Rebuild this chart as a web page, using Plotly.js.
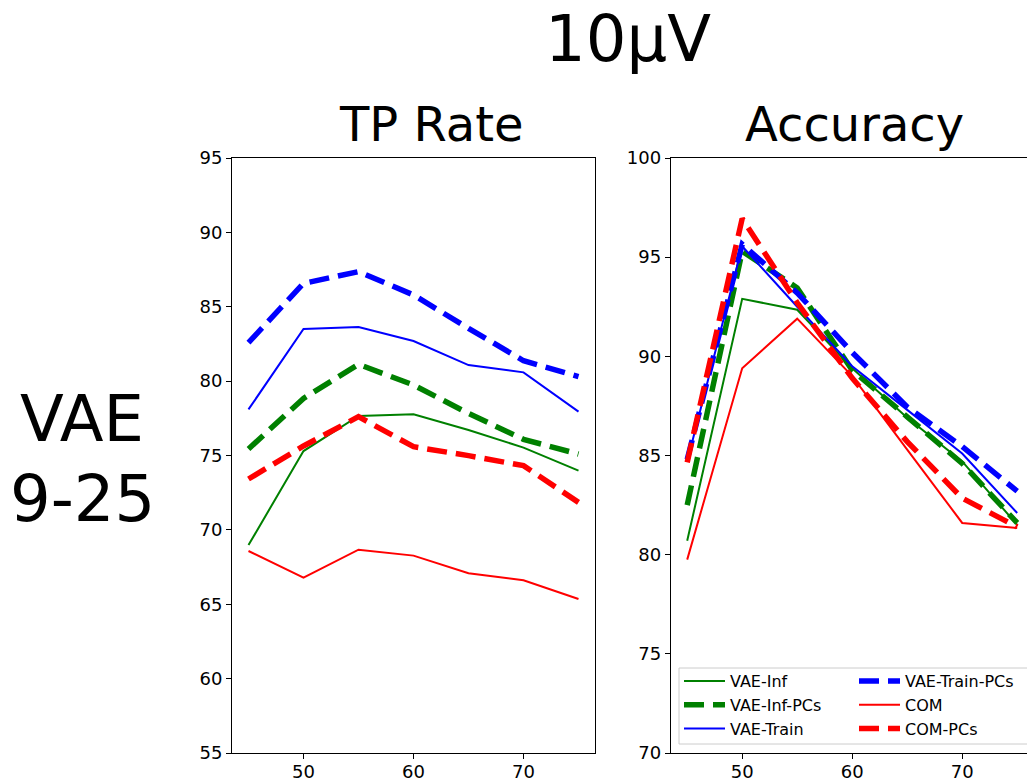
<!DOCTYPE html>
<html>
<head>
<meta charset="utf-8">
<script src="https://cdn.plot.ly/plotly-3.0.1.min.js"></script>
<style>html,body{margin:0;padding:0;background:#fff;}#chart{width:1027px;height:783px;}</style>
</head>
<body>
<div id="chart"></div>
<script>
const xVals = [45, 50, 55, 60, 65, 70, 75];
const seriesNames = ['VAE-Inf', 'VAE-Inf-PCs', 'VAE-Train', 'VAE-Train-PCs', 'COM', 'COM-PCs'];

// TP Rate
const tpVaeInf      = [68.98, 75.30, 77.66, 77.77, 76.71, 75.53, 73.98];
const tpVaeInfPCs   = [75.44, 78.84, 81.13, 79.74, 77.83, 76.09, 75.10];
const tpVaeTrain    = [78.10, 83.50, 83.64, 82.70, 81.08, 80.59, 77.95];
const tpVaeTrainPCs = [82.59, 86.57, 87.36, 85.79, 83.55, 81.37, 80.30];
const tpCom         = [68.58, 66.79, 68.67, 68.27, 67.08, 66.61, 65.35];
const tpComPCs      = [73.42, 75.64, 77.61, 75.59, 74.99, 74.32, 71.85];

// Accuracy
const accVaeInf      = [80.70, 92.90, 92.35, 89.40, 86.90, 84.70, 81.50];
const accVaeInfPCs   = [82.50, 95.30, 93.45, 89.30, 86.95, 84.60, 81.60];
const accVaeTrain    = [84.70, 95.55, 92.50, 89.50, 87.30, 85.10, 82.10];
const accVaeTrainPCs = [84.80, 95.65, 93.20, 90.20, 87.45, 85.45, 83.20];
const accCom         = [79.75, 89.40, 91.90, 89.00, 85.30, 81.60, 81.35];
const accComPCs      = [84.65, 96.95, 92.70, 88.90, 85.70, 82.85, 81.40];

const tpData = [tpVaeInf, tpVaeInfPCs, tpVaeTrain, tpVaeTrainPCs, tpCom, tpComPCs];
const accData = [accVaeInf, accVaeInfPCs, accVaeTrain, accVaeTrainPCs, accCom, accComPCs];

const colors = ['#008000', '#008000', '#0000ff', '#0000ff', '#ff0000', '#ff0000'];
const dashed = [false, true, false, true, false, true];
const legendCol = ['legend', 'legend', 'legend', 'legend2', 'legend2', 'legend2'];

function lineStyle(i) {
  return dashed[i]
    ? {color: colors[i], width: 5.5, dash: '20px,9px'}
    : {color: colors[i], width: 2};
}

const traces = [];
seriesNames.forEach((name, i) => {
  traces.push({x: xVals, y: tpData[i], type: 'scatter', mode: 'lines', name: name,
    line: lineStyle(i), xaxis: 'x', yaxis: 'y', showlegend: false, hoverinfo: 'skip'});
});
seriesNames.forEach((name, i) => {
  traces.push({x: xVals, y: accData[i], type: 'scatter', mode: 'lines', name: name,
    line: lineStyle(i), xaxis: 'x2', yaxis: 'y2', showlegend: true, legend: legendCol[i], hoverinfo: 'skip'});
});

const W = 1027, H = 783;
const FF = 'DejaVu Sans, sans-serif';
const tickFont = {family: FF, size: 18, color: '#000'};
const axisCommon = {
  showgrid: false, zeroline: false, showline: true, linecolor: '#000', linewidth: 1,
  ticks: 'outside', ticklen: 5, tickwidth: 1, tickcolor: '#000', tickfont: tickFont
};

const yDomain = [(H - 753) / H, (H - 158) / H];
const legendFont = {family: FF, size: 16, color: '#000'};
const legendCommon = {orientation: 'v', yanchor: 'top', xanchor: 'left', font: legendFont,
  bgcolor: 'rgba(0,0,0,0)', borderwidth: 0, traceorder: 'normal', tracegroupgap: 0, itemwidth: 41};

const layout = {
  width: W, height: H,
  margin: {l: 0, r: 0, t: 0, b: 0},
  paper_bgcolor: '#fff', plot_bgcolor: '#fff',
  font: {family: FF, color: '#000'},
  xaxis: Object.assign({}, axisCommon, {domain: [232 / W, 595 / W], range: [43.5, 76.5],
    tickvals: [50, 60, 70], mirror: true, anchor: 'y', ticklabelstandoff: -3}),
  yaxis: Object.assign({}, axisCommon, {domain: yDomain, range: [55, 95], dtick: 5, tick0: 0,
    mirror: true, anchor: 'x'}),
  xaxis2: Object.assign({}, axisCommon, {domain: [670.7 / W, 1], range: [43.5, 43.5 + (W - 670.7) / 11],
    tickvals: [50, 60, 70], mirror: true, anchor: 'y2', ticklabelstandoff: -3}),
  yaxis2: Object.assign({}, axisCommon, {domain: yDomain, range: [70, 100], dtick: 5, tick0: 0,
    mirror: false, anchor: 'x2'}),
  showlegend: true,
  legend: Object.assign({}, legendCommon, {x: 679 / W, y: 1 - 664 / H}),
  legend2: Object.assign({}, legendCommon, {x: 854 / W, y: 1 - 664 / H}),
  shapes: [
    {type: 'rect', xref: 'paper', yref: 'paper', x0: 679 / W, x1: 1040 / W, y0: 1 - 744 / H, y1: 1 - 668 / H,
      line: {color: '#cccccc', width: 1}, fillcolor: 'rgba(255,255,255,0.8)', layer: 'above'}
  ],
  annotations: [
    {text: '10μV', x: 628 / W, y: 1 - 39 / H, xref: 'paper', yref: 'paper', showarrow: false,
      xanchor: 'center', yanchor: 'middle', font: {family: FF, size: 64, color: '#000'}},
    {text: 'TP Rate', x: 431 / W, y: 1 - 124 / H, xref: 'paper', yref: 'paper', showarrow: false,
      xanchor: 'center', yanchor: 'middle', font: {family: FF, size: 48, color: '#000'}},
    {text: 'Accuracy', x: 854 / W, y: 1 - 124 / H, xref: 'paper', yref: 'paper', showarrow: false,
      xanchor: 'center', yanchor: 'middle', font: {family: FF, size: 48, color: '#000'}},
    {text: 'VAE', x: 82 / W, y: 1 - 419 / H, xref: 'paper', yref: 'paper', showarrow: false,
      xanchor: 'center', yanchor: 'middle', font: {family: FF, size: 64, color: '#000'}},
    {text: '9-25', x: 82 / W, y: 1 - 499 / H, xref: 'paper', yref: 'paper', showarrow: false,
      xanchor: 'center', yanchor: 'middle', font: {family: FF, size: 64, color: '#000'}}
  ]
};

Plotly.newPlot('chart', traces, layout, {staticPlot: true, displayModeBar: false});
</script>
</body>
</html>
